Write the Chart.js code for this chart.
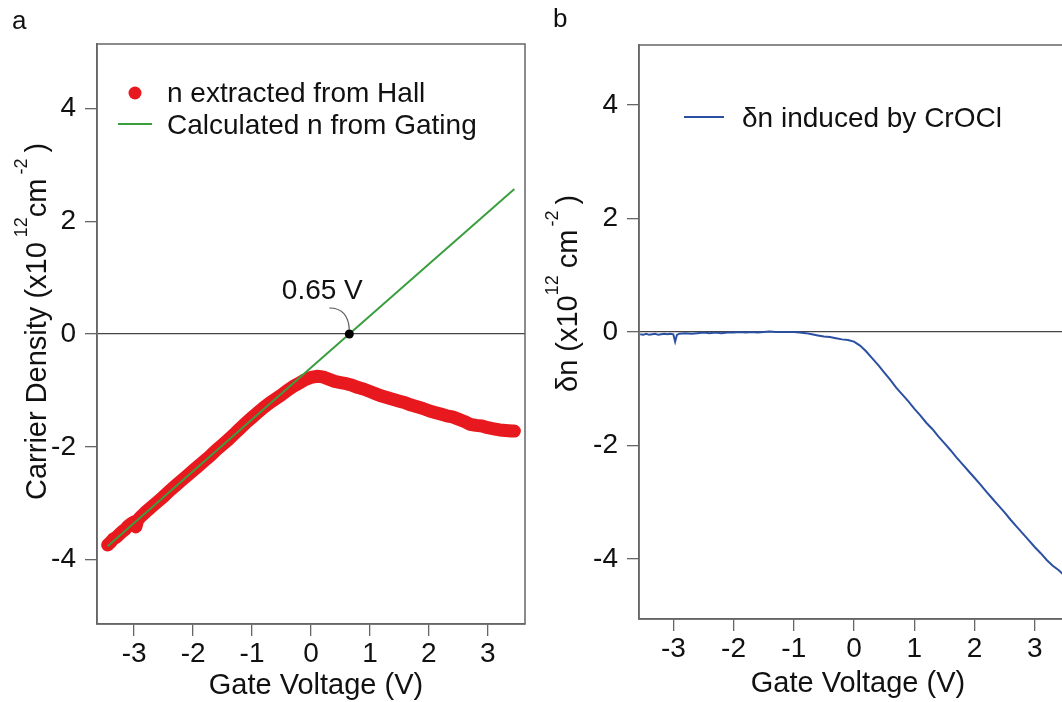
<!DOCTYPE html>
<html>
<head>
<meta charset="utf-8">
<script src="https://cdn.jsdelivr.net/npm/chart.js@4.4.1/dist/chart.umd.min.js"></script>
<style>
  html, body { margin: 0; padding: 0; background: #fff; overflow: hidden; width: 1062px; height: 702px; }
  .panel { position: absolute; top: 0; height: 702px; }
  #panelA { left: 0; width: 540px; }
  #panelB { left: 540px; width: 560px; }
</style>
</head>
<body>
<div class="panel" id="panelA"><canvas id="chartA"></canvas></div>
<div class="panel" id="panelB"><canvas id="chartB"></canvas></div>
<script>
// tick labels
const gateTicks = [-3, -2, -1, 0, 1, 2, 3];
const densityTicks = [-4, -2, 0, 2, 4];

// panel a: n extracted from Hall
const hallVoltage = [-3.45, -3.4, -3.35, -3.3, -3.25, -3.2, -3.15, -3.1, -3.05, -3.0, -2.97, -2.94, -2.9, -2.8, -2.7, -2.6, -2.5, -2.4, -2.3, -2.2, -2.1, -2.0, -1.9, -1.8, -1.7, -1.6, -1.5, -1.4, -1.3, -1.2, -1.1, -1.0, -0.9, -0.8, -0.7, -0.6, -0.5, -0.4, -0.3, -0.2, -0.1, 0.0, 0.1, 0.2, 0.3, 0.4, 0.5, 0.6, 0.7, 0.8, 0.9, 1.0, 1.1, 1.2, 1.3, 1.4, 1.5, 1.6, 1.7, 1.8, 1.9, 2.0, 2.1, 2.2, 2.3, 2.4, 2.5, 2.6, 2.7, 2.8, 2.9, 3.0, 3.1, 3.2, 3.3, 3.4, 3.45];
const hallDensity = [-3.74, -3.69, -3.63, -3.6, -3.55, -3.5, -3.46, -3.4, -3.36, -3.33, -3.42, -3.3, -3.25, -3.15, -3.06, -2.97, -2.88, -2.78, -2.69, -2.6, -2.51, -2.42, -2.33, -2.24, -2.15, -2.05, -1.96, -1.87, -1.77, -1.67, -1.57, -1.48, -1.39, -1.3, -1.22, -1.15, -1.08, -1.0, -0.93, -0.87, -0.81, -0.77, -0.75, -0.76, -0.8, -0.84, -0.86, -0.88, -0.91, -0.95, -0.98, -1.02, -1.06, -1.1, -1.13, -1.16, -1.19, -1.22, -1.26, -1.29, -1.32, -1.36, -1.39, -1.42, -1.45, -1.47, -1.51, -1.55, -1.6, -1.62, -1.63, -1.66, -1.68, -1.7, -1.71, -1.72, -1.72];

// panel a: calculated n from gating (end points of the line)
const gatingVoltage = [-3.45, 3.45];
const gatingDensity = [-3.76, 2.57];
const crossingVoltage = [0.65];
const crossingDensity = [0];

// panel b: delta n induced by CrOCl
const deltaVoltage = [-3.55, -3.5, -3.45, -3.4, -3.35, -3.3, -3.25, -3.2, -3.15, -3.1, -3.05, -3.0, -2.97, -2.94, -2.9, -2.8, -2.7, -2.6, -2.5, -2.4, -2.3, -2.2, -2.1, -2.0, -1.9, -1.8, -1.7, -1.6, -1.5, -1.4, -1.3, -1.2, -1.1, -1.0, -0.9, -0.8, -0.7, -0.6, -0.5, -0.4, -0.3, -0.2, -0.1, 0.0, 0.1, 0.2, 0.3, 0.4, 0.5, 0.6, 0.7, 0.8, 0.9, 1.0, 1.1, 1.2, 1.3, 1.4, 1.5, 1.6, 1.7, 1.8, 1.9, 2.0, 2.1, 2.2, 2.3, 2.4, 2.5, 2.6, 2.7, 2.8, 2.9, 3.0, 3.1, 3.2, 3.3, 3.4, 3.5];
const deltaDensity = [-0.04, -0.05, -0.03, -0.05, -0.04, -0.03, -0.05, -0.04, -0.03, -0.04, -0.03, -0.04, -0.17, -0.05, -0.03, -0.02, -0.03, -0.02, -0.01, -0.02, -0.01, -0.02, -0.01, -0.01, 0.0, -0.01, 0.0, -0.01, 0.0, 0.01, 0.0, 0.0, 0.0, 0.0, -0.01, -0.02, -0.04, -0.06, -0.08, -0.09, -0.11, -0.13, -0.14, -0.17, -0.24, -0.34, -0.46, -0.58, -0.71, -0.84, -0.98, -1.1, -1.22, -1.35, -1.47, -1.6, -1.71, -1.84, -1.96, -2.08, -2.21, -2.33, -2.45, -2.57, -2.69, -2.82, -2.94, -3.06, -3.18, -3.31, -3.43, -3.55, -3.67, -3.79, -3.9, -4.02, -4.12, -4.2, -4.3];

const FONT = '"Liberation Sans", Arial, sans-serif';

function toPoints(xs, ys) {
  return xs.map((x, i) => ({ x: x, y: ys[i] }));
}

// draws text with superscripts, optionally rotated
function drawRich(ctx, parts, x, y, size, rotate) {
  ctx.save();
  ctx.translate(x, y);
  if (rotate) ctx.rotate(-Math.PI / 2);
  ctx.fillStyle = '#111';
  ctx.textAlign = 'left';
  ctx.textBaseline = 'alphabetic';
  let cx = 0;
  parts.forEach(p => {
    const s = p.sup ? Math.round(size * 0.62) : size;
    ctx.font = s + 'px ' + FONT;
    ctx.fillText(p.t, cx, p.sup ? -size * 0.66 : 0);
    cx += ctx.measureText(p.t).width + (p.gap || 0);
  });
  ctx.restore();
}

function text(ctx, t, x, y, size, align) {
  ctx.save();
  ctx.fillStyle = '#111';
  ctx.font = size + 'px ' + FONT;
  ctx.textAlign = align || 'left';
  ctx.textBaseline = 'alphabetic';
  ctx.fillText(t, x, y);
  ctx.restore();
}

const framePlugin = {
  id: 'frame',
  afterDraw(chart) {
    const a = chart.chartArea;
    const ctx = chart.ctx;
    ctx.save();
    ctx.strokeStyle = '#666';
    ctx.lineWidth = 1.5;
    ctx.strokeRect(a.left, a.top, a.right - a.left, a.bottom - a.top);
    ctx.restore();
  }
};

function gateAxis(min, max) {
  return {
    type: 'linear', min: min, max: max,
    afterBuildTicks: s => { s.ticks = gateTicks.map(v => ({ value: v })); },
    afterFit: s => { s.height = 70; },
    ticks: { font: { family: FONT, size: 28 }, color: '#111', padding: 1, maxRotation: 0 },
    grid: { drawOnChartArea: false, tickLength: 12, tickColor: '#666', lineWidth: 1.3 },
    border: { display: true, color: '#666', width: 1.5 }
  };
}

function densityAxis(min, max, width) {
  return {
    type: 'linear', min: min, max: max,
    afterBuildTicks: s => { s.ticks = densityTicks.map(v => ({ value: v })); },
    afterFit: s => { s.width = width; },
    ticks: { font: { family: FONT, size: 28 }, color: '#111', padding: 9 },
    grid: {
      color: c => (c.tick && c.tick.value === 0 ? '#444' : 'rgba(0,0,0,0)'),
      tickColor: '#666', tickLength: 12, lineWidth: 1.3
    },
    border: { display: true, color: '#666', width: 1.5 }
  };
}

// panel a
const decorA = {
  id: 'decorA',
  afterDraw(chart) {
    const ctx = chart.ctx;
    text(ctx, 'a', 12, 29, 26);
    text(ctx, 'Gate Voltage (V)', 316, 694, 29, 'center');
    drawRich(ctx, [
      { t: 'Carrier Density (x10', gap: 5 },
      { t: '12', sup: true },
      { t: 'cm', gap: 4 },
      { t: '-2', sup: true, gap: 6 },
      { t: ')' }
    ], 46, 500, 29, true);

    // legend
    ctx.save();
    ctx.fillStyle = '#e8191e';
    ctx.beginPath();
    ctx.arc(135, 93, 6.5, 0, Math.PI * 2);
    ctx.fill();
    ctx.strokeStyle = '#3a9e3f';
    ctx.lineWidth = 2;
    ctx.beginPath();
    ctx.moveTo(118, 124);
    ctx.lineTo(152, 124);
    ctx.stroke();
    ctx.restore();
    text(ctx, 'n extracted from Hall', 167, 102, 28);
    text(ctx, 'Calculated n from Gating', 167, 134, 28);

    // 0.65 V annotation
    const xs = chart.scales.x, ys = chart.scales.y;
    const px = xs.getPixelForValue(crossingVoltage[0]);
    const py = ys.getPixelForValue(crossingDensity[0]);
    ctx.save();
    ctx.strokeStyle = '#555';
    ctx.lineWidth = 1.2;
    ctx.beginPath();
    ctx.moveTo(px - 20, py - 26);
    ctx.quadraticCurveTo(px - 1, py - 26, px, py - 4);
    ctx.stroke();
    ctx.restore();
    text(ctx, '0.65 V', px - 27, py - 35, 28, 'center');
  }
};

new Chart(document.getElementById('chartA'), {
  type: 'scatter',
  data: {
    datasets: [
      {
        label: 'crossing',
        data: toPoints(crossingVoltage, crossingDensity),
        pointRadius: 4.5, pointBackgroundColor: '#000', pointBorderWidth: 0,
        order: 0
      },
      {
        label: 'Calculated n from Gating',
        data: toPoints(gatingVoltage, gatingDensity),
        showLine: true, borderColor: '#3a9e3f', borderWidth: 2, pointRadius: 0,
        order: 1
      },
      {
        label: 'n extracted from Hall',
        data: toPoints(hallVoltage, hallDensity),
        showLine: true, borderColor: '#e8191e', borderWidth: 13,
        borderCapStyle: 'round', borderJoinStyle: 'round', pointRadius: 0,
        order: 2
      }
    ]
  },
  options: {
    responsive: true,
    maintainAspectRatio: false,
    animation: false,
    layout: { padding: { left: 0, top: 44, right: 15, bottom: 8 } },
    plugins: { legend: { display: false }, tooltip: { enabled: false } },
    scales: {
      x: gateAxis(-3.63, 3.63),
      y: densityAxis(-5.14, 5.14, 97)
    }
  },
  plugins: [framePlugin, decorA]
});

// panel b
const decorB = {
  id: 'decorB',
  afterDraw(chart) {
    const ctx = chart.ctx;
    text(ctx, 'b', 13, 27, 26);
    text(ctx, 'Gate Voltage (V)', 318, 692, 29, 'center');
    drawRich(ctx, [
      { t: '\u03b4n (x10' },
      { t: '12', sup: true, gap: 7 },
      { t: 'cm', gap: 3 },
      { t: '-2', sup: true, gap: 6 },
      { t: ')' }
    ], 37, 392, 29, true);

    ctx.save();
    ctx.strokeStyle = '#2b50a2';
    ctx.lineWidth = 2;
    ctx.beginPath();
    ctx.moveTo(144, 117);
    ctx.lineTo(184, 117);
    ctx.stroke();
    ctx.restore();
    text(ctx, '\u03b4n induced by CrOCl', 202, 127, 28);
  }
};

new Chart(document.getElementById('chartB'), {
  type: 'scatter',
  data: {
    datasets: [
      {
        label: '\u03b4n induced by CrOCl',
        data: toPoints(deltaVoltage, deltaDensity),
        showLine: true, borderColor: '#2b50a2', borderWidth: 2, pointRadius: 0
      }
    ]
  },
  options: {
    responsive: true,
    maintainAspectRatio: false,
    animation: false,
    layout: { padding: { left: 0, top: 45, right: 31, bottom: 13 } },
    plugins: { legend: { display: false }, tooltip: { enabled: false } },
    scales: {
      x: gateAxis(-3.57, 3.57),
      y: densityAxis(-5.06, 5.06, 99)
    }
  },
  plugins: [framePlugin, decorB]
});
</script>
</body>
</html>
